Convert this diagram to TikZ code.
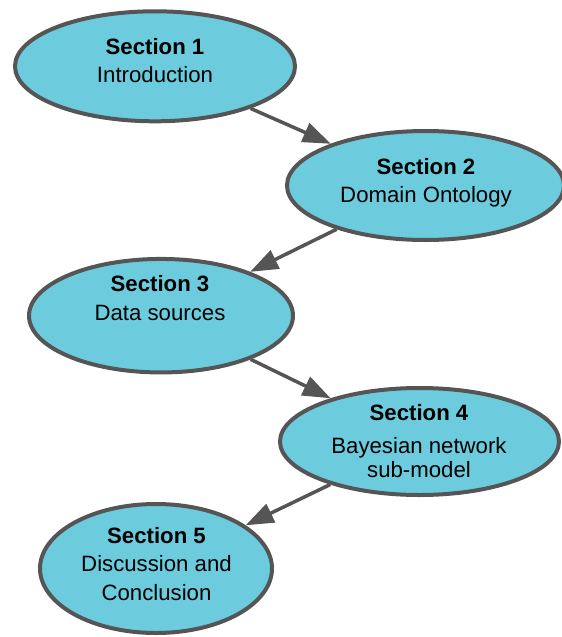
\documentclass[tikz,border=0pt]{standalone}
\usepackage{fontspec}
\setmainfont{Liberation Sans}
\usetikzlibrary{arrows.meta,shapes.geometric}
\definecolor{secfill}{RGB}{108,204,221}
\definecolor{secline}{RGB}{85,85,85}
\tikzset{
  section/.style={ellipse, draw=secline, line width=4pt, fill=secfill, inner sep=0pt},
  sectext/.style={align=center, inner sep=0pt, text=black,
    font=\fontsize{22.2}{28.5}\selectfont},
  flow/.style={draw=secline, line width=3.5pt,
    -{Triangle[length=28pt,width=20pt]}}
}
\begin{document}
\begin{tikzpicture}[x=1pt,y=-1pt]
  \useasboundingbox (0,0) rectangle (562,637);
  % section ellipses
  \node[section, minimum width=280pt, minimum height=110pt] (s1) at (155,66.3) {};
  \node[section, minimum width=277pt, minimum height=109pt] (s2) at (425.5,185.5) {};
  \node[section, minimum width=264pt, minimum height=113.5pt] (s3) at (161,315.7) {};
  \node[section, minimum width=279pt, minimum height=107pt] (s4) at (419.5,441.5) {};
  \node[section, minimum width=232pt, minimum height=129pt] (s5) at (156,568.5) {};
  % section labels
  \node[sectext] (t1) at (155,60.8) {\textbf{Section 1}\\Introduction};
  \node[sectext] (t2) at (426,183) {\textbf{Section 2}\\Domain Ontology};
  \node[sectext] (t3) at (160,298.2) {\textbf{Section 3}\\Data sources};
  \node[sectext] (t4) at (419,441.2) {\textbf{Section 4}\\[3.8pt]Bayesian network\\[-4.5pt]sub-model};
  \node[sectext] (t5) at (156.5,564) {\textbf{Section 5}\\Discussion and\\Conclusion};
  % reading order
  \draw[flow] (s1) -- (s2);
  \draw[flow] (s2) -- (s3);
  \draw[flow] (s3) -- (s4);
  \draw[flow] (s4) -- (s5);
\end{tikzpicture}
\end{document}
